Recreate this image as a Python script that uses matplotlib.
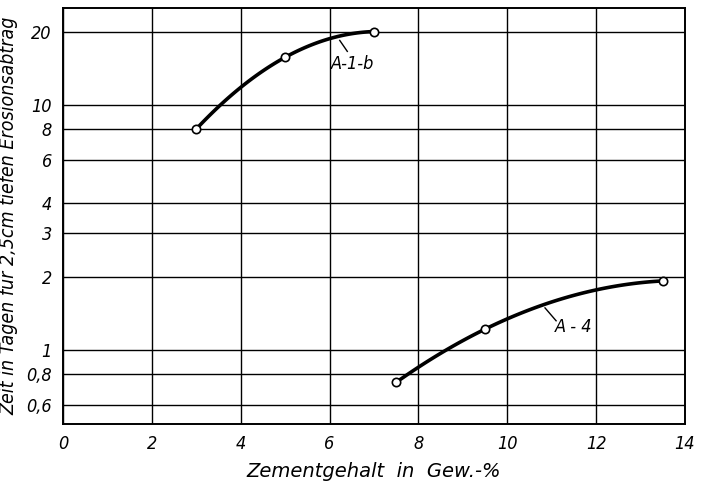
import matplotlib
matplotlib.use('Agg')
import matplotlib.pyplot as plt
import numpy as np

# Data
a1b_x = [3.0, 5.0, 7.0]
a1b_y = [8.0, 15.7, 20.0]
a4_x = [7.5, 9.5, 13.5]
a4_y = [0.74, 1.22, 1.92]

x_ticks = [0, 2, 4, 6, 8, 10, 12, 14]
y_ticks = [0.6, 0.8, 1, 2, 3, 4, 6, 8, 10, 20]
y_ticklabels = ["0,6", "0,8", "1", "2", "3", "4", "6", "8", "10", "20"]

font = dict(family='DejaVu Sans', style='italic', stretch='condensed')

fig = plt.figure(figsize=(7.02, 4.88), dpi=100)
ax = fig.add_axes([0.0897, 0.131, 0.886, 0.853])
ax.set_yscale('log')
ax.set_xlim(0, 14)
ax.set_ylim(0.5, 25)

ax.set_xticks(x_ticks)
ax.set_xticklabels([str(t) for t in x_ticks], fontsize=13, **font)
ax.set_yticks(y_ticks)
ax.set_yticklabels(y_ticklabels, fontsize=13, **font)
ax.minorticks_off()
ax.tick_params(length=0, pad=8)
ax.grid(True, color='black', lw=1.0)
for s in ax.spines.values():
    s.set_linewidth(1.4)


def smooth(xs, ys):
    # quadratic through the three points in log space, drawn as the curve
    c = np.polyfit(xs, np.log10(ys), 2)
    xx = np.linspace(xs[0], xs[-1], 100)
    return xx, 10 ** np.polyval(c, xx)


for xs, ys in [(a1b_x, a1b_y), (a4_x, a4_y)]:
    xx, yy = smooth(xs, ys)
    ax.plot(xx, yy, color='black', lw=2.6, zorder=3)
    ax.plot(xs, ys, 'o', ms=6, mfc='white', mec='black', mew=1.2, zorder=4)

# curve labels with short leader lines
ax.plot([6.23, 6.4], [18.4, 16.6], color='black', lw=1)
ax.text(6.03, 14.7, "A-1-b", fontsize=13, va='center', ha='left', **font)
ax.plot([10.85, 11.1], [1.49, 1.32], color='black', lw=1)
ax.text(11.07, 1.24, "A - 4", fontsize=13, va='center', ha='left', **font)

ax.set_xlabel("Zementgehalt  in  Gew.-%", fontsize=14, labelpad=6,
              family='DejaVu Sans', style='italic')
ax.set_ylabel("Zeit in Tagen für 2,5cm tiefen Erosionsabtrag", fontsize=14,
              labelpad=6, **font)

fig.savefig("out.png", dpi=100)
